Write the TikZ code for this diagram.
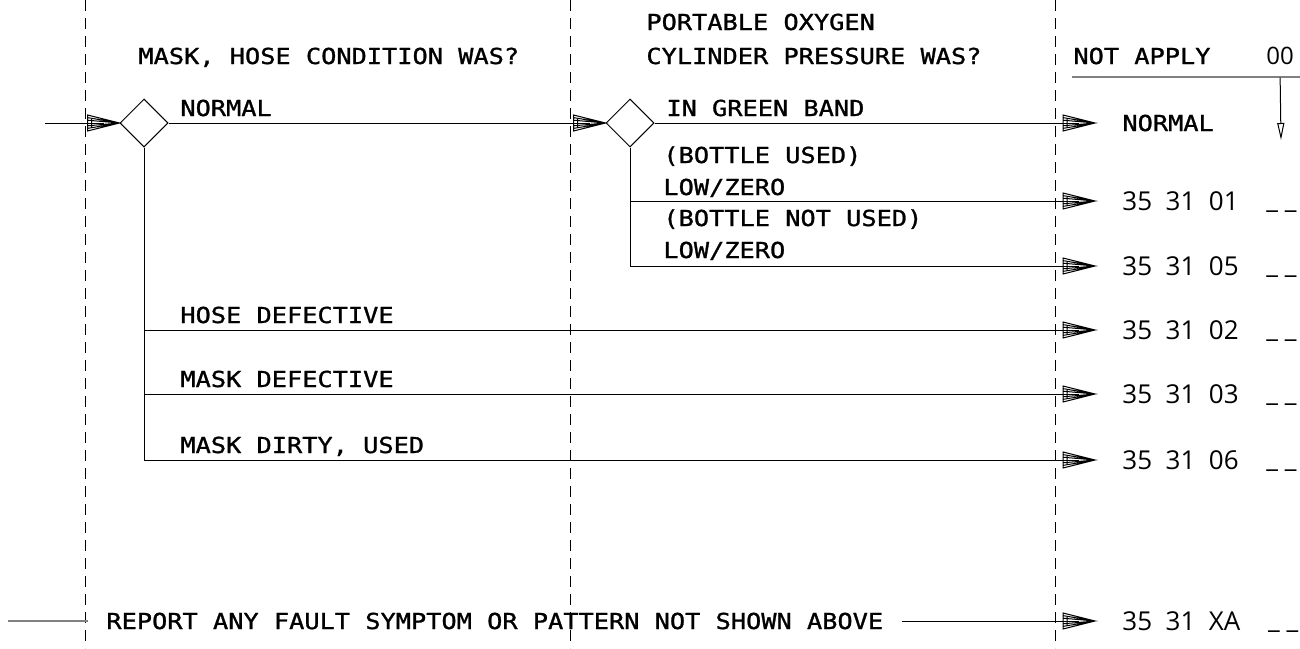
\documentclass[tikz,border=0pt]{standalone}
\usepackage{fontspec}
\usetikzlibrary{shapes.geometric,arrows.meta}
\newfontfamily\labfont[FakeStretch=1.15,FakeBold=1.2]{DejaVu Sans Mono}
\newfontfamily\codefont{Open Sans}

\pgfdeclarearrow{
  name = Hatch,
  setup code = {
    \pgfarrowssettipend{0pt}
    \pgfarrowssetlineend{-8pt}
    \pgfarrowssetvisualbackend{-16pt}
    \pgfarrowssetbackend{-16pt}
    \pgfarrowshullpoint{0pt}{0pt}
    \pgfarrowshullpoint{-16pt}{4pt}
    \pgfarrowshullpoint{-16pt}{-4pt}
  },
  drawing code = {
    \pgfsetdash{}{0pt}
    \pgfsetmiterjoin
    \pgfpathmoveto{\pgfpoint{-16pt}{4pt}}
    \pgfpathlineto{\pgfpointorigin}
    \pgfpathlineto{\pgfpoint{-16pt}{-4pt}}
    \pgfpathclose
    \pgfpathmoveto{\pgfpoint{-16pt}{2.7pt}}
    \pgfpathlineto{\pgfpointorigin}
    \pgfpathlineto{\pgfpoint{-16pt}{-2.7pt}}
    \pgfpathmoveto{\pgfpoint{-16pt}{1.4pt}}
    \pgfpathlineto{\pgfpointorigin}
    \pgfpathlineto{\pgfpoint{-16pt}{-1.4pt}}
    \pgfpathmoveto{\pgfpoint{-14pt}{2pt}}
    \pgfpathlineto{\pgfpoint{-14pt}{-2pt}}
    \pgfusepathqstroke
  }
}

\tikzset{
  lab/.style={font=\labfont\fontsize{11pt}{13pt}\selectfont, inner sep=0pt, anchor=base west},
  code/.style={font=\codefont\fontsize{13pt}{15pt}\selectfont, inner ysep=0pt, inner xsep=13.5pt, anchor=west},
  rlab/.style={font=\labfont\fontsize{11pt}{13pt}\selectfont, inner ysep=0pt, inner xsep=13.5pt, anchor=west},
  blank/.style={font=\codefont\fontsize{13pt}{15pt}\selectfont, inner sep=0pt, anchor=base west},
  diam/.style={diamond, draw, line width=0.5pt, minimum width=24pt, minimum height=24pt, inner sep=0pt},
  conn/.style={line width=0.5pt},
  arr/.style={conn, -Hatch},
  guide/.style={line width=0.5pt, dash pattern=on 5.5pt off 3.5pt},
  rule/.style={line width=1pt, gray},
}

\begin{document}
\begin{tikzpicture}[x=0.5pt, y=-0.5pt]
\useasboundingbox (0,0) rectangle (1300,648);

% column guides
\draw[guide] (85,0) -- (85,648);
\draw[guide] (570,0) -- (570,648);
\draw[guide] (1055,0) -- (1055,648);

% headers
\node[lab] (hdr1) at (138,64) {MASK, HOSE CONDITION WAS?};
\node[lab] (hdr2a) at (646,30) {PORTABLE OXYGEN};
\node[lab] (hdr2b) at (646,64) {CYLINDER PRESSURE WAS?};
\node[lab] (na) at (1073,64) {NOT APPLY};
\node[inner xsep=0pt, inner ysep=6.5pt, anchor=base west, font=\codefont\fontsize{12pt}{14pt}\selectfont] (n00) at (1266,64) {00};
\draw[rule] (1072,77) -- (1300,77);
\coordinate (ndown) at (1281,140);
\draw[conn, -{Triangle[open, length=8.5pt, width=3.5pt]}] (n00.south) -- (ndown);

% decision diamonds
\node[diam] (d1) at (144,123) {};
\node[diam] (d2) at (630,123) {};

% outcome codes
\node[rlab] (cnorm) at (1095,123) {NORMAL};
\node[code] (c01) at (1095,201) {35~~31~~01};
\node[code] (c05) at (1095,266) {35~~31~~05};
\node[code] (c02) at (1095,330) {35~~31~~02};
\node[code] (c03) at (1095,394) {35~~31~~03};
\node[code] (c06) at (1095,460) {35~~31~~06};
\node[code] (cxa) at (1095,621) {35~~31~~XA};
\foreach \c in {c01,c05,c02,c03,c06,cxa}
  \node[blank] (u\c) at ([yshift=1pt]\c.base east) {\_ \_};

% branch labels
\node[lab] (lnormal) at (180,116) {NORMAL};
\node[lab] (lgreen) at (666,116) {IN GREEN BAND};
\node[lab] (lbu) at (663,163) {(BOTTLE USED)};
\node[lab] (llz1) at (663,195) {LOW/ZERO};
\node[lab] (lbnu) at (663,226) {(BOTTLE NOT USED)};
\node[lab] (llz2) at (663,258) {LOW/ZERO};
\node[lab] (lhose) at (180,323) {HOSE DEFECTIVE};
\node[lab] (lmask) at (180,387) {MASK DEFECTIVE};
\node[lab] (ldirty) at (180,453) {MASK DIRTY, USED};

% connectors
\coordinate (in) at (45,123);
\draw[arr] (in) -- (d1.west);
\draw[arr] (d1.east) -- (d2.west);
\draw[arr] (d2.east) -- (cnorm.west);
\draw[arr] (d2.south) |- (c01.west);
\draw[arr] (d2.south) |- (c05.west);
\draw[arr] (d1.south) |- (c02.west);
\draw[arr] (d1.south) |- (c03.west);
\draw[arr] (d1.south) |- (c06.west);

% report line
\node[lab, anchor=west, inner xsep=9pt, inner ysep=0pt] (rep) at (88,621) {REPORT ANY FAULT SYMPTOM OR PATTERN NOT SHOWN ABOVE};
\coordinate (rin) at (8,621);
\draw[rule, line width=0.7pt] (rin) -- (rep.west);
\draw[arr] (rep.east) -- (cxa.west);
\end{tikzpicture}
\end{document}
